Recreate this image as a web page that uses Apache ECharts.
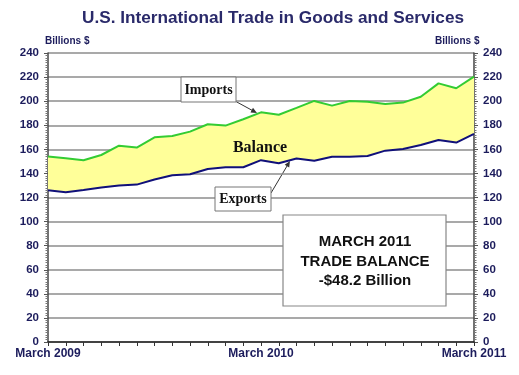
<!DOCTYPE html>
<html><head><meta charset="utf-8">
<script src="https://cdn.jsdelivr.net/npm/echarts@6/dist/echarts.min.js"></script>
<style>html,body{margin:0;padding:0;background:#fff}#c{width:519px;height:375px}</style>
</head><body><div id="c"></div>
<script>
const months = ['March 2009','April 2009','May 2009','June 2009','July 2009','August 2009','September 2009','October 2009','November 2009','December 2009',
  'January 2010','February 2010','March 2010','April 2010','May 2010','June 2010','July 2010','August 2010','September 2010','October 2010','November 2010','December 2010',
  'January 2011','February 2011','March 2011'];
const imports = [154, 152.5, 151, 155.3, 163, 161.5, 170, 171, 174.7, 180.8, 179.7, 185, 190.7, 188.7, 194.4, 200.2, 196.3, 200.2, 199.6, 197.7, 198.8, 203.7, 214.8, 210.7, 220.4];
const exportsData = [126, 124.3, 126.2, 128.3, 130, 130.7, 135, 138.4, 139.3, 143.7, 145.1, 145.1, 151, 148.4, 152.4, 150.5, 153.9, 153.9, 154.5, 158.9, 160.3, 163.6, 167.8, 165.6, 172.8];
const yMin = 0, yMax = 240, yStep = 20;
const title = 'U.S. International Trade in Goods and Services';
const unitLabel = 'Billions $';
const boxLines = ['MARCH 2011', 'TRADE BALANCE', '-$48.2 Billion'];

const balance = imports.map((v, i) => +(v - exportsData[i]).toFixed(2));
const navy = '#1c1c5c';

const chart = echarts.init(document.getElementById('c'));

function arrow(x1, y1, x2, y2) {
  const dx = x2 - x1, dy = y2 - y1, L = Math.hypot(dx, dy);
  const ux = dx / L, uy = dy / L, px = -uy, py = ux, hl = 6, hw = 2.6;
  return {
    type: 'group', z: 50, children: [
      { type: 'line', shape: { x1, y1, x2: x2 - ux * 3, y2: y2 - uy * 3 }, style: { stroke: '#333', lineWidth: 1 } },
      { type: 'polygon', shape: { points: [[x2, y2], [x2 - ux * hl + px * hw, y2 - uy * hl + py * hw], [x2 - ux * hl - px * hw, y2 - uy * hl - py * hw]] }, style: { fill: '#333' } }
    ]
  };
}

const yAxisCommon = {
  type: 'value', min: yMin, max: yMax, interval: yStep,
  axisLine: { show: true, lineStyle: { color: '#444', width: 1.5 } },
  axisTick: { show: true, length: 4, lineStyle: { color: '#555' } },
  minorTick: { show: true, splitNumber: 10, length: 2.5, lineStyle: { color: '#777' } },
  axisLabel: { color: navy, fontFamily: 'Arial, Liberation Sans, sans-serif', fontWeight: 'bold', fontSize: 11.5, margin: 9 }
};

chart.setOption({
  animation: false,
  backgroundColor: '#fff',
  title: {
    text: title, left: 77, top: 5,
    textStyle: { color: '#2a2a6a', fontFamily: 'Arial, Liberation Sans, sans-serif', fontWeight: 'bold', fontSize: 17.2 }
  },
  grid: { left: 48, right: 45, top: 53, bottom: 33 },
  xAxis: {
    type: 'category', data: months, boundaryGap: false,
    axisLine: { lineStyle: { color: '#222', width: 1.5 } },
    axisTick: { show: true, interval: 0, length: 4, lineStyle: { color: '#333' } },
    axisLabel: { interval: 11, color: navy, fontFamily: 'Arial, Liberation Sans, sans-serif', fontWeight: 'bold', fontSize: 12, margin: 6, showMaxLabel: true, showMinLabel: true },
    splitLine: { show: false }
  },
  yAxis: [
    Object.assign({}, yAxisCommon, { position: 'left', splitLine: { show: true, lineStyle: { color: '#8c8c8c', width: 1.5 } } }),
    Object.assign({}, yAxisCommon, { position: 'right', splitLine: { show: false } })
  ],
  series: [
    { name: 'base', type: 'line', stack: 'band', data: exportsData, symbol: 'none', lineStyle: { opacity: 0 }, silent: true },
    { name: 'Balance', type: 'line', stack: 'band', data: balance, symbol: 'none', lineStyle: { opacity: 0 }, areaStyle: { color: '#ffff99', opacity: 1 }, silent: true },
    { name: 'Imports', type: 'line', data: imports, symbol: 'none', lineStyle: { color: '#33cc33', width: 2 }, z: 5 },
    { name: 'Exports', type: 'line', data: exportsData, symbol: 'none', lineStyle: { color: '#10107a', width: 2 }, z: 5 }
  ],
  graphic: [
    { type: 'text', left: 45, top: 36, style: { text: unitLabel, fill: navy, font: 'bold 10px Arial, Liberation Sans, sans-serif' } },
    { type: 'text', left: 435, top: 36, style: { text: unitLabel, fill: navy, font: 'bold 10px Arial, Liberation Sans, sans-serif' } },
    arrow(235, 101, 257, 113),
    arrow(271, 193, 290, 161),
    { type: 'rect', z: 50, shape: { x: 181, y: 77, width: 55, height: 25 }, style: { fill: '#fff', stroke: '#777', lineWidth: 1 } },
    { type: 'text', z: 51, x: 208.5, y: 90, style: { text: 'Imports', fill: '#111', font: 'bold 14px "Liberation Serif", "Times New Roman", serif', align: 'center', verticalAlign: 'middle' } },
    { type: 'text', z: 51, x: 260, y: 148, style: { text: 'Balance', fill: '#111', font: 'bold 16px "Liberation Serif", "Times New Roman", serif', align: 'center', verticalAlign: 'middle' } },
    { type: 'rect', z: 50, shape: { x: 215, y: 187, width: 56, height: 24 }, style: { fill: '#fff', stroke: '#777', lineWidth: 1 } },
    { type: 'text', z: 51, x: 243, y: 199.5, style: { text: 'Exports', fill: '#111', font: 'bold 14px "Liberation Serif", "Times New Roman", serif', align: 'center', verticalAlign: 'middle' } },
    { type: 'rect', z: 50, shape: { x: 283, y: 215, width: 163, height: 91 }, style: { fill: '#fff', stroke: '#888', lineWidth: 1.2 } },
    { type: 'text', z: 51, x: 365, y: 242, style: { text: boxLines[0], fill: '#111', font: 'bold 15px Arial, Liberation Sans, sans-serif', align: 'center', verticalAlign: 'middle' } },
    { type: 'text', z: 51, x: 365, y: 261.5, style: { text: boxLines[1], fill: '#111', font: 'bold 15px Arial, Liberation Sans, sans-serif', align: 'center', verticalAlign: 'middle' } },
    { type: 'text', z: 51, x: 365, y: 281, style: { text: boxLines[2], fill: '#111', font: 'bold 15px Arial, Liberation Sans, sans-serif', align: 'center', verticalAlign: 'middle' } }
  ]
});
</script>
</body></html>
